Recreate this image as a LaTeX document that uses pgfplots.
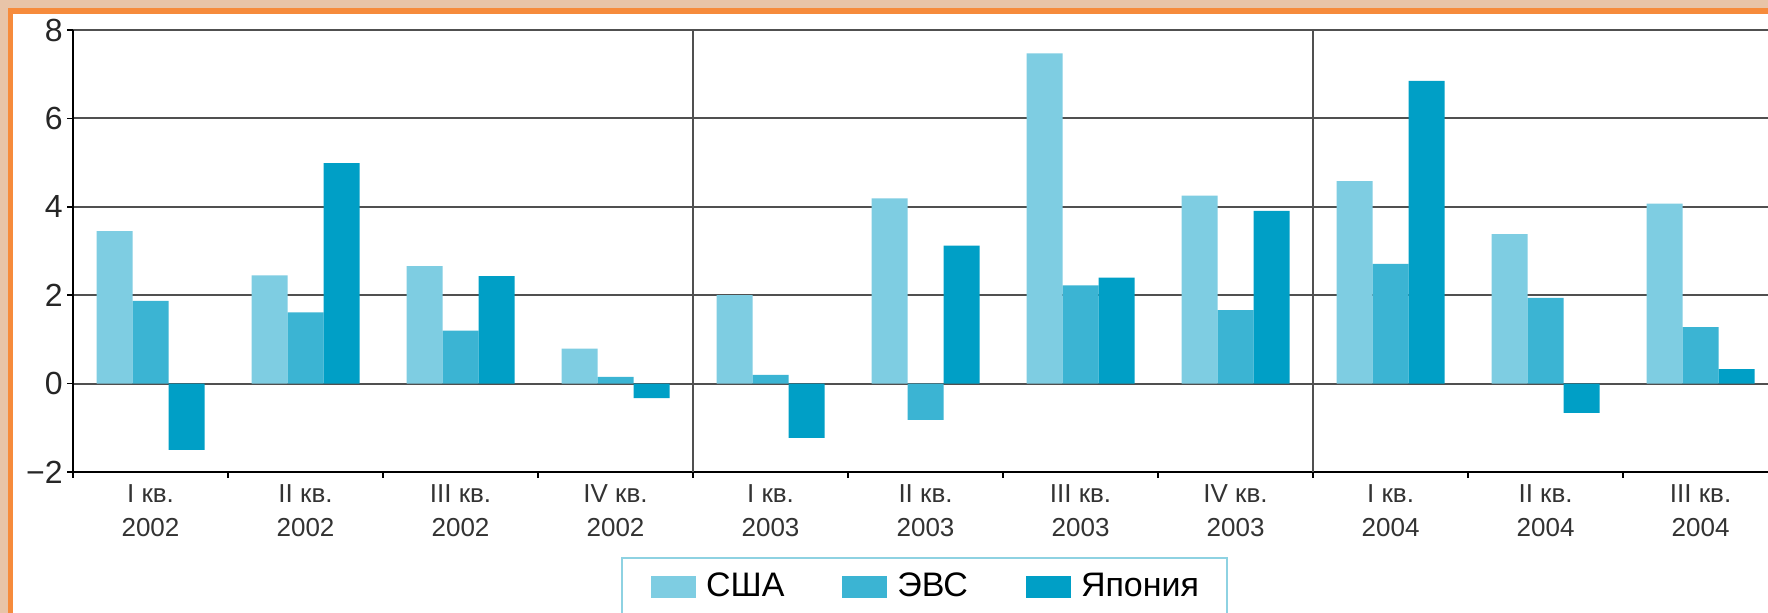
\documentclass[border=0pt]{standalone}
\usepackage{fontspec}
\setmainfont{Liberation Sans}
\usepackage{pgfplots}
\pgfplotsset{compat=1.18}
\definecolor{peach}{HTML}{E8C4A8}
\definecolor{orng}{HTML}{F68B3C}
\definecolor{cUSA}{HTML}{7ECDE2}
\definecolor{cEVS}{HTML}{3BB4D3}
\definecolor{cJP}{HTML}{009FC6}
\definecolor{legbd}{HTML}{8ED2E2}
\definecolor{gridc}{HTML}{505050}
\definecolor{labc}{HTML}{333333}
\begin{document}
\begin{tikzpicture}
\useasboundingbox (0,0) rectangle (884pt,306.5pt);
\fill[peach] (0,0) rectangle (884pt,306.5pt);
\fill[orng] (4pt,0) rectangle (884pt,302.5pt);
\fill[white] (6.5pt,0) rectangle (884pt,299.5pt);
\begin{axis}[
  at={(36.5pt,70.5pt)}, anchor=south west,
  scale only axis, width=847.5pt, height=221pt,
  xmin=-0.5, xmax=10.435, ymin=-2, ymax=8,
  ybar=0pt, bar width=18pt,
  axis x line*=bottom, axis y line*=left,
  axis line style={-, line width=0.9pt, black},
  ytick={-2,0,2,4,6,8}, yticklabels={−2,0,2,4,6,8},
  ymajorgrids, major grid style={gridc, line width=1pt},
  tick align=outside, major tick length=3pt,
  tick style={black, line width=0.8pt},
  xtick={-0.5,0.5,...,9.5}, xticklabels={},
  extra x ticks={0,1,2,3,4,5,6,7,8,9,10},
  extra x tick labels={{I кв.\\2002},{II кв.\\2002},{III кв.\\2002},{IV кв.\\2002},{I кв.\\2003},{II кв.\\2003},{III кв.\\2003},{IV кв.\\2003},{I кв.\\2004},{II кв.\\2004},{III кв.\\2004}},
  extra x tick style={major tick length=0pt, grid=none},
  xticklabel style={align=center, font=\fontsize{13}{17}\selectfont, text=labc, yshift=-3pt},
  yticklabel style={font=\fontsize{16}{18}\selectfont, text=black!85, inner xsep=2pt},
  legend style={at={(0.5024,-0.1923)}, anchor=north, legend columns=3,
    draw=legbd, line width=1.2pt, font=\fontsize{17}{20}\selectfont,
    inner xsep=9pt, inner ysep=4.5pt,
    nodes={inner xsep=5pt, inner ysep=3pt},
    /tikz/every even column/.append style={column sep=18.5pt}},
  legend image code/.code={\path (-5.5pt,0pt); \fill[#1,draw=none] (0pt,-5.5pt) rectangle (22.5pt,5.5pt);},
]
\addplot[fill=cUSA, draw=none] coordinates {(0,3.45) (1,2.45) (2,2.66) (3,0.79) (4,2.0) (5,4.19) (6,7.47) (7,4.25) (8,4.58) (9,3.38) (10,4.07)};
\addplot[fill=cEVS, draw=none] coordinates {(0,1.87) (1,1.61) (2,1.2) (3,0.15) (4,0.2) (5,-0.82) (6,2.22) (7,1.66) (8,2.71) (9,1.94) (10,1.28)};
\addplot[fill=cJP, draw=none] coordinates {(0,-1.5) (1,4.99) (2,2.43) (3,-0.33) (4,-1.23) (5,3.12) (6,2.4) (7,3.91) (8,6.85) (9,-0.66) (10,0.33)};
\legend{США, ЭВС, Япония}
\draw[gridc, line width=1.4pt] (axis cs:3.5,-2) -- (axis cs:3.5,8);
\draw[gridc, line width=1.4pt] (axis cs:7.5,-2) -- (axis cs:7.5,8);
\end{axis}
\end{tikzpicture}
\end{document}
